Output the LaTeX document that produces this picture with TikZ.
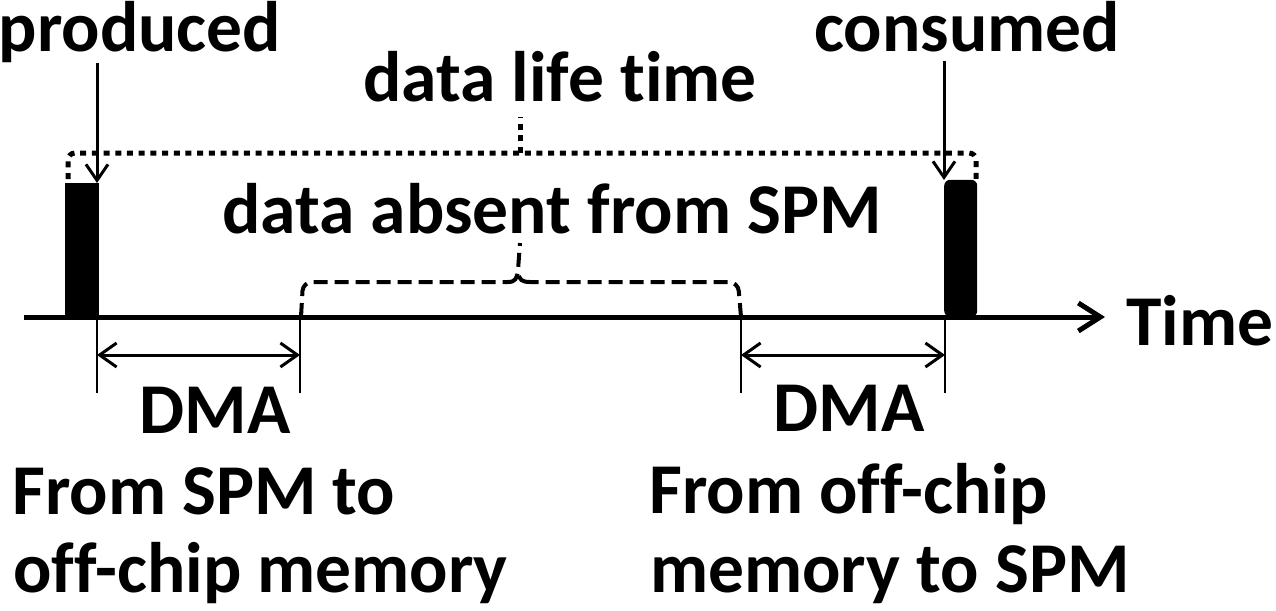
\documentclass[tikz,border=0pt]{standalone}
\usepackage{fontspec}
\setmainfont{Carlito}[Ligatures=NoCommon]
\usetikzlibrary{arrows.meta}
\begin{document}
\begin{tikzpicture}[x=1pt,y=-1pt,
  lbl/.style={font=\bfseries\fontsize{71.5}{80}\selectfont, inner sep=0pt, anchor=base},
  lbll/.style={lbl, anchor=base west},
  bar/.style={fill=black, draw=none, inner sep=0pt, anchor=south west},
  tickline/.style={line width=2.5pt},
  dmaarrow/.style={line width=3pt, {Straight Barb[length=17pt,width=24pt,line width=3pt]}-{Straight Barb[length=17pt,width=24pt,line width=3pt]}},
  evarrow/.style={line width=3pt, -{Straight Barb[length=16pt,width=22pt,line width=3pt]}},
  axisline/.style={line width=5pt, -{Straight Barb[length=22pt,width=28pt,line width=5pt]}},
  dotline/.style={line width=5pt, dash pattern=on 6pt off 5.7pt},
  dashline/.style={line width=4pt, dash pattern=on 14pt off 7pt}
]
\useasboundingbox (0,0) rectangle (1276,610);

% texts
\node[lbl] (produced) at (140,52) {produced};
\node[lbl] (consumed) at (967,52) {consumed};
\node[lbl] (life) at (560,101) {data life time};
\node[lbl] (absent) at (552,233) {data absent from SPM};
\node[lbl] (time) at (1200,345) {Time};
\node[lbl] (dmaL) at (215,433) {DMA};
\node[lbl] (dmaR) at (849,431) {DMA};
\node[lbll] (fromL1) at (12,514) {From SPM to};
\node[lbll] (fromL2) at (13,592) {off-chip memory};
\node[lbll] (fromR1) at (649,513) {From off-chip};
\node[lbll] (fromR2) at (650,592) {memory to SPM};

% bars
\node[bar, minimum width=34pt, minimum height=134pt] (pbar) at (65,317) {};
\node[bar, minimum width=33pt, minimum height=137pt, rounded corners=6pt] (cbar) at (944,317) {};

% coordinates
\coordinate (ax0) at (24,317);
\coordinate (ax1) at (1105,317);
\coordinate (p0) at (97,63);
\coordinate (p1) at (97,183);
\coordinate (c0) at (944,61);
\coordinate (c1) at (944,180);
\coordinate (t1a) at (97,317);  \coordinate (t1b) at (97,393);
\coordinate (t2a) at (300,312); \coordinate (t2b) at (300,393);
\coordinate (t3a) at (741,312); \coordinate (t3b) at (741,393);
\coordinate (t4a) at (945,317); \coordinate (t4b) at (945,393);

% axis
\draw[axisline] (ax0) -- (ax1);

% event arrows
\draw[evarrow] (p0) -- (p1);
\draw[evarrow] (c0) -- (c1);

% ticks
\draw[tickline] (t1a) -- (t1b);
\draw[tickline] (t2a) -- (t2b);
\draw[tickline] (t3a) -- (t3b);
\draw[tickline] (t4a) -- (t4b);

% DMA arrows
\draw[dmaarrow] (97,355) -- (300,355);
\draw[dmaarrow] (741,355) -- (945,355);

% data life time bracket (dotted)
\draw[dotline, rounded corners=7pt] (68,179) -- (68,153) -- (976,153) -- (976,179);
\draw[dotline] (520,153) -- (520,117);

% data absent bracket (dashed)
\draw[dashline, rounded corners=9pt] (301,317) -- (303,282) -- (508,282);
\draw[dashline] (508,282) .. controls (515,282) and (517,279) .. (518,270) -- (520,243);
\draw[dashline, rounded corners=9pt] (741,317) -- (738,282) -- (530,282);
\draw[dashline] (530,282) .. controls (522,282) and (519,280) .. (518,272);
\end{tikzpicture}
\end{document}
